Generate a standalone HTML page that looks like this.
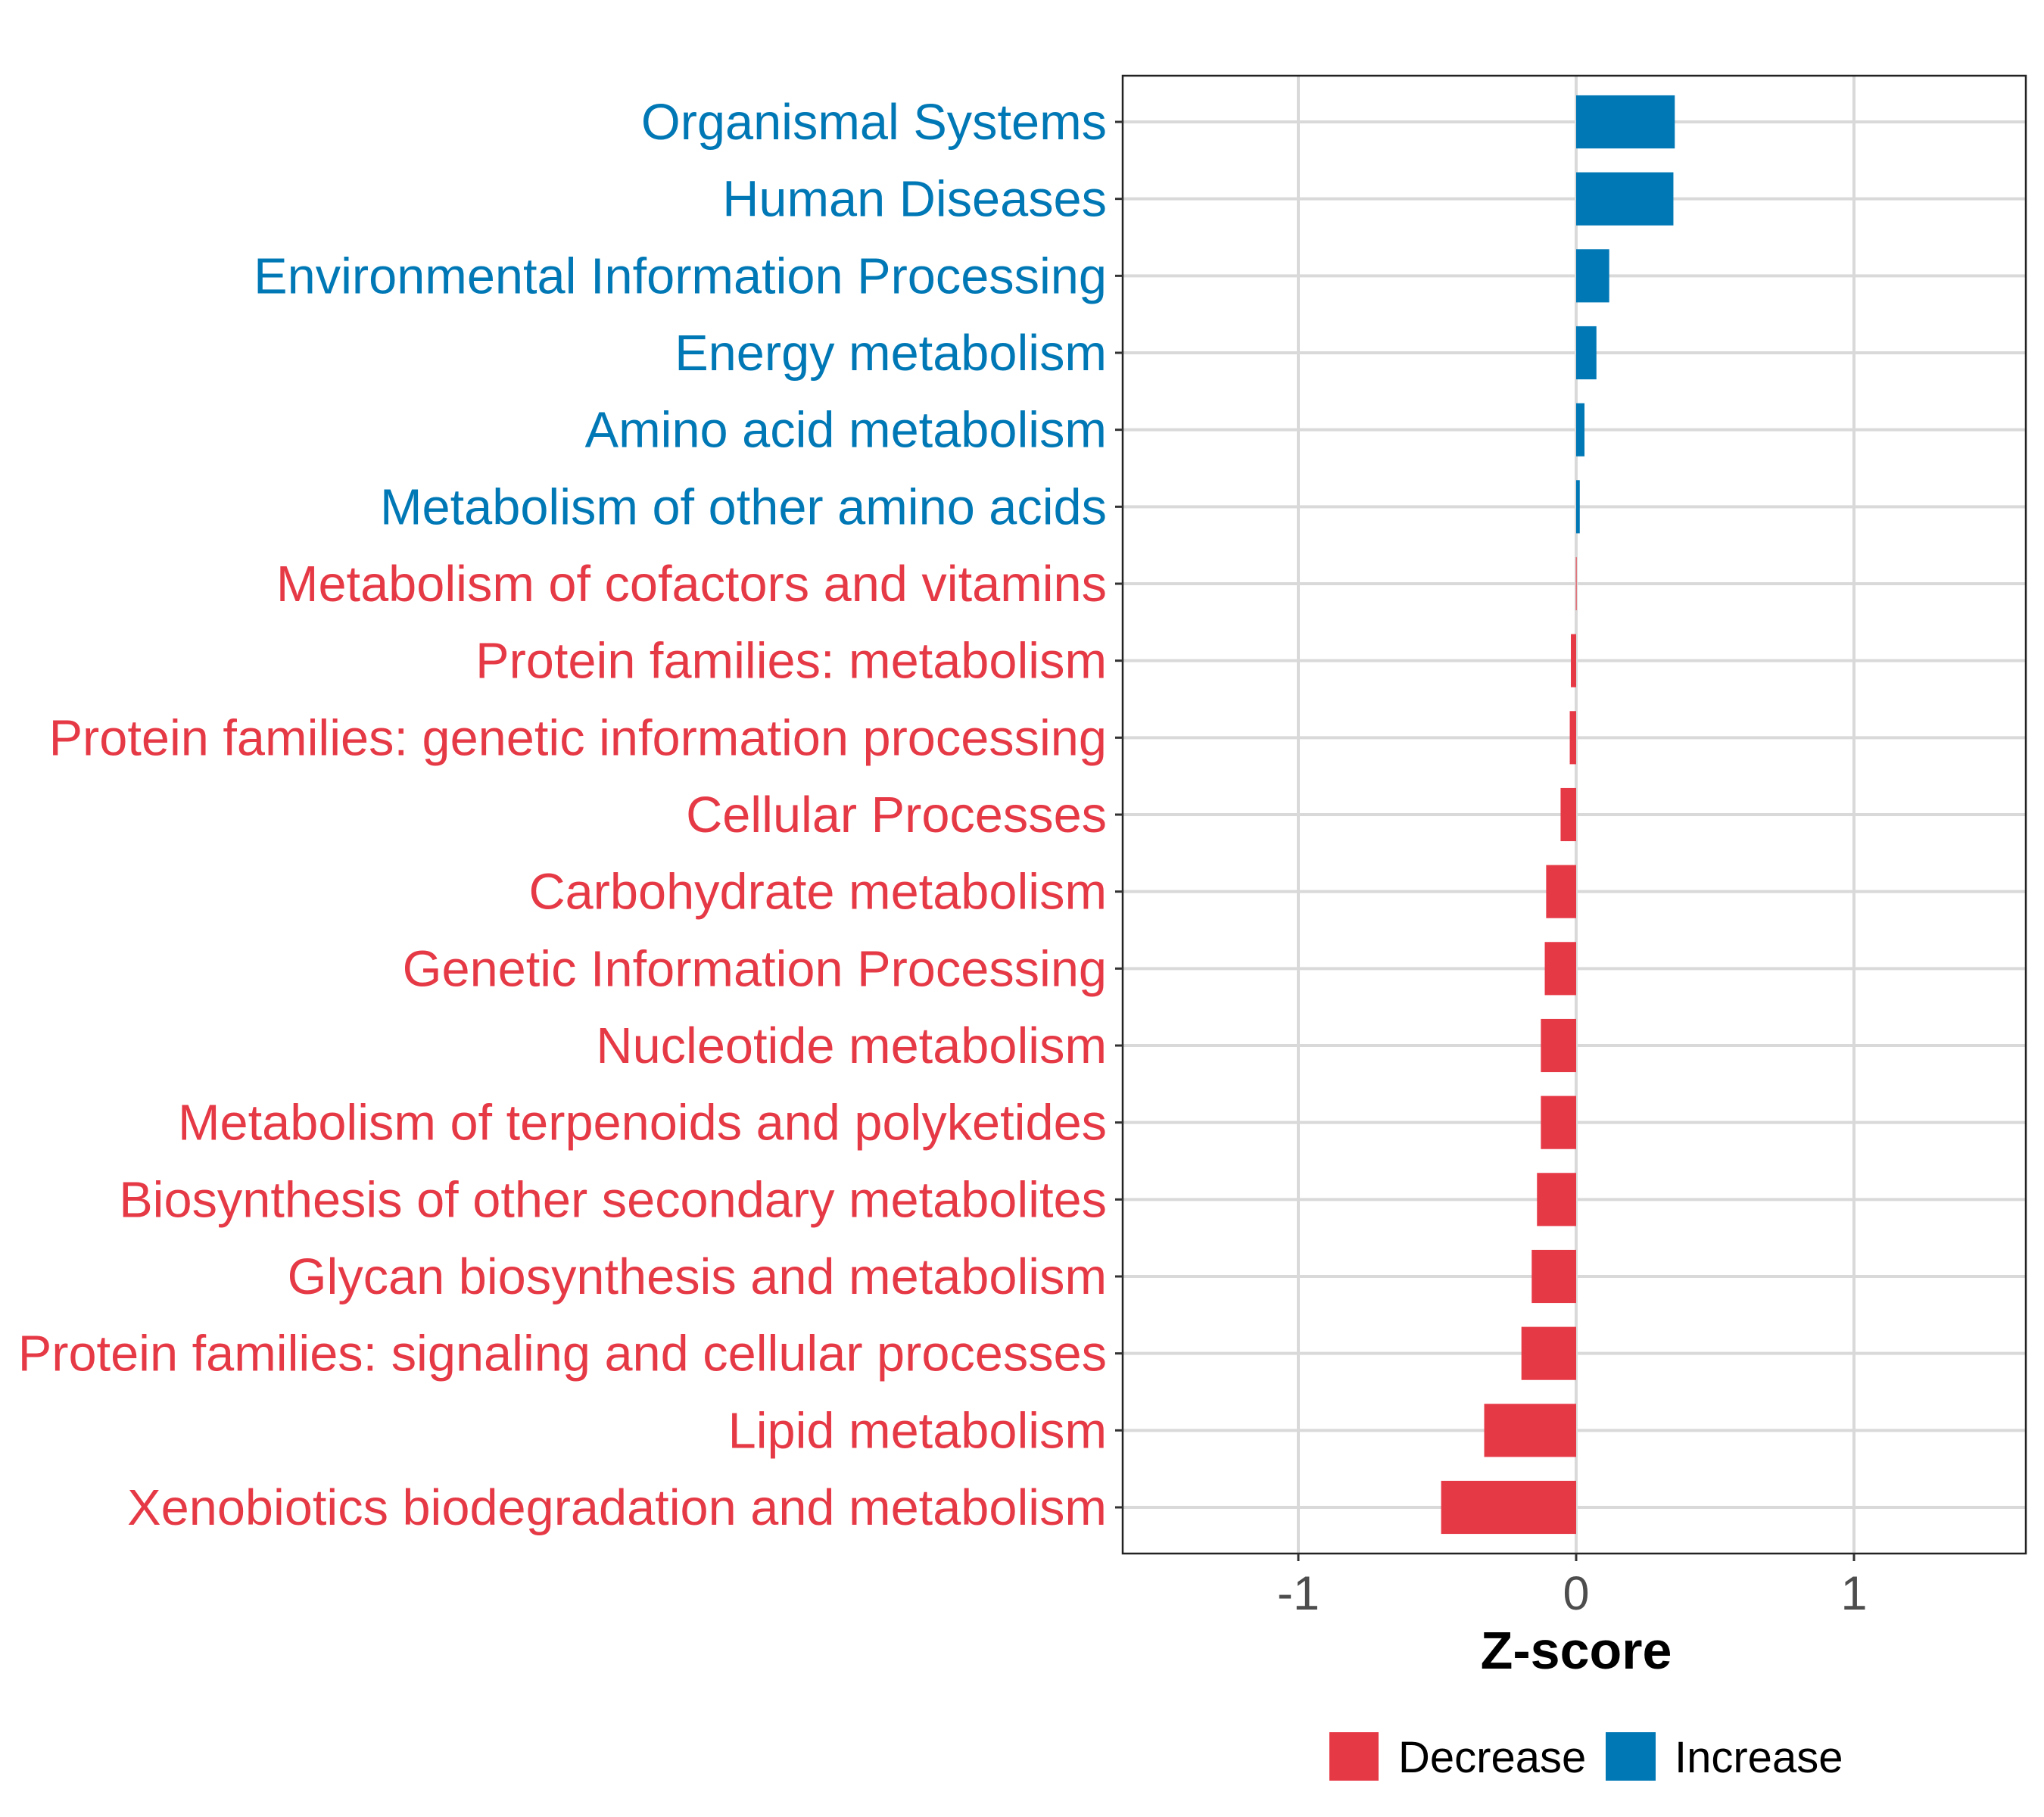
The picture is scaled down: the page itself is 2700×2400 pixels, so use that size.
<!DOCTYPE html>
<html><head><meta charset="utf-8"><style>
html,body{margin:0;padding:0;background:#fff}
svg{display:block}
text{font-family:"Liberation Sans",Arial,sans-serif}
</style></head><body>
<svg id="chart" width="2700" height="2400" viewBox="0 0 2700 2400">
<g id="grid"></g>
<g id="bars"></g>
<rect x="1483" y="100" width="1193" height="1952" fill="none" stroke="#222" stroke-width="2.5"/>
<g id="yaxis"></g>
<g id="xaxis"></g>
<text x="2082" y="2204" text-anchor="middle" font-size="70" font-weight="bold" fill="#000">Z-score</text>
<g>
<rect x="1756" y="2288" width="65" height="64" fill="#E63946"/>
<text x="1847" y="2341" font-size="58" fill="#000">Decrease</text>
<rect x="2121" y="2288" width="66" height="64" fill="#0178B6"/>
<text x="2212" y="2341" font-size="58" fill="#000">Increase</text>
</g>
</svg>
<script>
const categories = ["Organismal Systems","Human Diseases","Environmental Information Processing","Energy metabolism","Amino acid metabolism","Metabolism of other amino acids","Metabolism of cofactors and vitamins","Protein families: metabolism","Protein families: genetic information processing","Cellular Processes","Carbohydrate metabolism","Genetic Information Processing","Nucleotide metabolism","Metabolism of terpenoids and polyketides","Biosynthesis of other secondary metabolites","Glycan biosynthesis and metabolism","Protein families: signaling and cellular processes","Lipid metabolism","Xenobiotics biodegradation and metabolism"];
const zscores = [0.355,0.350,0.119,0.073,0.030,0.013,-0.001,-0.019,-0.023,-0.056,-0.108,-0.113,-0.127,-0.127,-0.141,-0.160,-0.197,-0.331,-0.486];
const xTicks = [-1,0,1];
const xTickLabels = ["-1","0","1"];

const NS="http://www.w3.org/2000/svg";
const X0=1483,X1=2676,Y0=100,Y1=2052,ZERO=2082,UNIT=367;
const xs=v=>ZERO+v*UNIT;
const step=(Y1-Y0)/(categories.length-1+1.2);
const ys=i=>Y0+step*(0.6+i);
const bw=step*0.69;
const BLUE="#0178B6",RED="#E63946";
function mk(tag,attrs,parent){const e=document.createElementNS(NS,tag);for(const k in attrs)e.setAttribute(k,attrs[k]);parent.appendChild(e);return e;}
const grid=document.getElementById('grid'),bars=document.getElementById('bars'),yax=document.getElementById('yaxis'),xax=document.getElementById('xaxis');
xTicks.forEach((t,i)=>{
  const l=mk('line',{x1:xs(t),x2:xs(t),y1:Y0,y2:Y1,stroke:'#d9d9d9','stroke-width':4},grid);
  
  
  const tk=mk('line',{x1:xs(t),x2:xs(t),y1:Y1,y2:Y1+10,stroke:'#333','stroke-width':3},xax);
  
  
  const tx=mk('text',{x:xs(t),y:2126,'text-anchor':'middle','font-size':63,fill:'#4d4d4d'},xax);
  tx.textContent=xTickLabels[i];
  
  
});
categories.forEach((c,i)=>{
  const y=ys(i),v=zscores[i],col=v>=0?BLUE:RED;
  const g=mk('line',{x1:X0,x2:X1,y1:y,y2:y,stroke:'#d9d9d9','stroke-width':4},grid);
  
  
  const x=Math.min(xs(0),xs(v)),w=Math.abs(xs(v)-xs(0));
  const r=mk('rect',{x:x,y:y-bw/2,width:Math.max(w,1),height:bw,fill:col},bars);
  
  
  const tk=mk('line',{x1:X0-10,x2:X0,y1:y,y2:y,stroke:'#333','stroke-width':3},yax);
  
  
  const t=mk('text',{x:1462,y:y+23,'text-anchor':'end','font-size':66.7,fill:col},yax);
  t.textContent=c;
  
  
});
</script>
</body></html>
